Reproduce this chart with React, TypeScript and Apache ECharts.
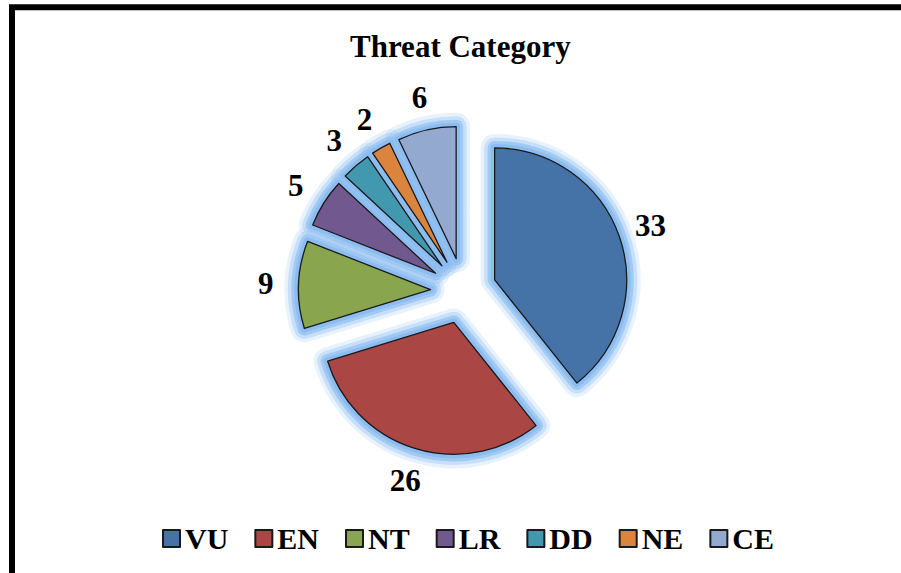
import React, { useEffect, useRef } from "react";
import * as echarts from "echarts";

const titleText = "Threat Category";
const categories = ["VU", "EN", "NT", "LR", "DD", "NE", "CE"];
const values = [33, 26, 9, 5, 3, 2, 6];
const colors = ["#4572A7", "#AA4643", "#89A54E", "#71588F", "#4198AF", "#DB843D", "#93A9CF"];

const FONT = '"Liberation Serif", "Times New Roman", serif';
const CENTER = [463.5, 290.8];
const RADIUS = 132;
const OFFSET = 33;
const EDGE = "#1a1a1a";
// glow layers: [border width, colour], outermost first
const glowLayers: [number, string][] = [
  [28, "rgba(150,195,242,0.22)"],
  [21, "rgba(150,195,242,0.40)"],
  [14, "rgba(146,192,241,0.70)"],
  [8, "rgba(140,188,240,1)"],
];

export default function App() {
  const ref = useRef<HTMLDivElement>(null);
  useEffect(() => {
    const chart = echarts.init(ref.current!, null, { renderer: "svg" });
    const mainData = categories.map((name, i) => ({
      name,
      value: values[i],
      selected: true,
      itemStyle: { color: colors[i] },
    }));
    const glowData = categories.map((name, i) => ({ name, value: values[i], selected: true }));
    const labelData = categories.map((name, i) => ({ name, value: values[i] }));

    const glowSeries = glowLayers.map(([w, c], k) => {
      const st = {
        color: c,
        borderColor: c,
        borderWidth: w,
        borderJoin: "round",
      };
      return {
        type: "pie",
        name: "glow" + k,
        z: 1,
        silent: true,
        center: CENTER,
        radius: RADIUS,
        startAngle: 90,
        selectedMode: "multiple",
        selectedOffset: OFFSET,
        label: { show: false },
        labelLine: { show: false },
        itemStyle: st,
        select: { itemStyle: st },
        emphasis: { disabled: true },
        data: glowData,
      };
    });

    chart.setOption({
      animation: false,
      backgroundColor: "#ffffff",
      title: {
        text: titleText,
        left: 350,
        top: 31,
        padding: 0,
        textStyle: { fontFamily: FONT, fontWeight: "bold", fontSize: 31, color: "#000" },
      },
      legend: {
        data: categories,
        icon: "rect",
        itemWidth: 17,
        itemHeight: 17,
        itemGap: 26,
        left: 162,
        top: 523.5,
        padding: 0,
        selectedMode: false,
        textStyle: { fontFamily: FONT, fontWeight: "bold", fontSize: 30, color: "#000" },
      },
      graphic: [
        {
          type: "rect",
          shape: { x: 12, y: 7.3, width: 1000, height: 1000 },
          style: { fill: "none", stroke: "#000", lineWidth: 6 },
          z: 100,
        },
      ],
      series: [
        {
          type: "pie",
          name: "main",
          z: 3,
          center: CENTER,
          radius: RADIUS,
          startAngle: 90,
          selectedMode: "multiple",
          selectedOffset: OFFSET,
          label: { show: false },
          labelLine: { show: false },
          itemStyle: { borderColor: EDGE, borderWidth: 1.3 },
          select: { itemStyle: { borderColor: EDGE, borderWidth: 1.3 } },
          emphasis: { disabled: true },
          data: mainData,
        },
        ...glowSeries,
        {
          type: "pie",
          name: "labels",
          z: 4,
          silent: true,
          center: CENTER,
          radius: [185, 205],
          startAngle: 90,
          itemStyle: { color: "rgba(0,0,0,0)", borderWidth: 0 },
          label: {
            show: true,
            position: "inside",
            formatter: "{c}",
            fontFamily: FONT,
            fontWeight: "bold",
            fontSize: 31,
            color: "#000",
          },
          labelLine: { show: false },
          emphasis: { disabled: true },
          data: labelData,
        },
      ],
    });
    return () => chart.dispose();
  }, []);
  return (
    <div
      ref={ref}
      style={{ position: "fixed", left: 0, top: 0, width: 901, height: 573, background: "#fff" }}
    />
  );
}
